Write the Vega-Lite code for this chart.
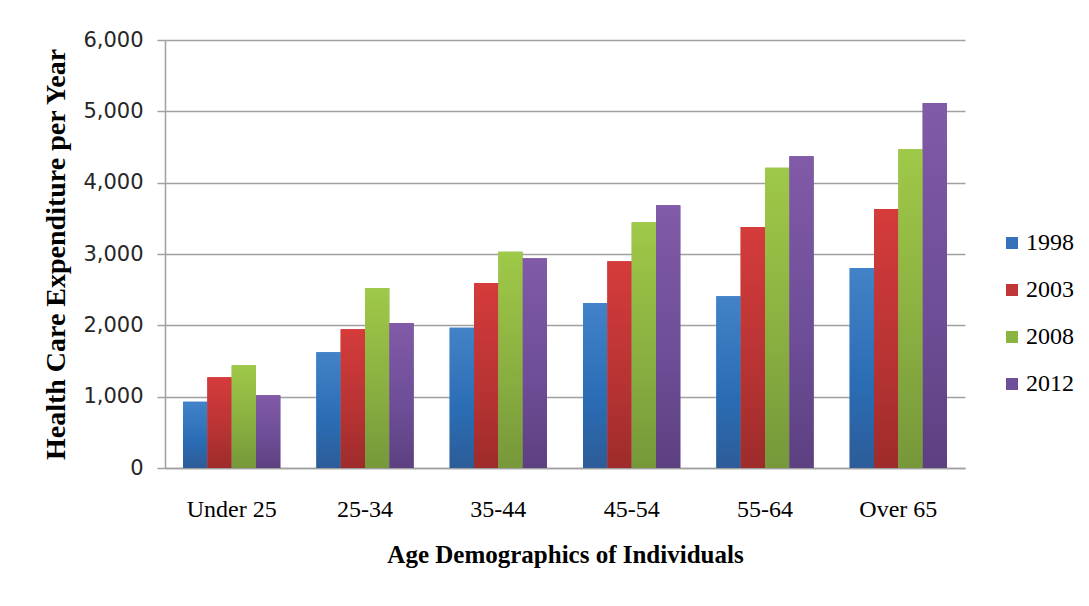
{
  "$schema": "https://vega.github.io/schema/vega-lite/v6.json",
  "width": 800,
  "height": 428,
  "autosize": {"type": "none"},
  "padding": {"left": 165, "top": 40, "right": 124, "bottom": 138},
  "background": "white",
  "data": {"values": [
    {"age": "Under 25", "year": "1998", "value": 930},
    {"age": "Under 25", "year": "2003", "value": 1271},
    {"age": "Under 25", "year": "2008", "value": 1439},
    {"age": "Under 25", "year": "2012", "value": 1019},
    {"age": "25-34", "year": "1998", "value": 1621},
    {"age": "25-34", "year": "2003", "value": 1944},
    {"age": "25-34", "year": "2008", "value": 2523},
    {"age": "25-34", "year": "2012", "value": 2033},
    {"age": "35-44", "year": "1998", "value": 1967},
    {"age": "35-44", "year": "2003", "value": 2593},
    {"age": "35-44", "year": "2008", "value": 3033},
    {"age": "35-44", "year": "2012", "value": 2939},
    {"age": "45-54", "year": "1998", "value": 2313},
    {"age": "45-54", "year": "2003", "value": 2897},
    {"age": "45-54", "year": "2008", "value": 3444},
    {"age": "45-54", "year": "2012", "value": 3682},
    {"age": "55-64", "year": "1998", "value": 2407},
    {"age": "55-64", "year": "2003", "value": 3379},
    {"age": "55-64", "year": "2008", "value": 4210},
    {"age": "55-64", "year": "2012", "value": 4369},
    {"age": "Over 65", "year": "1998", "value": 2804},
    {"age": "Over 65", "year": "2003", "value": 3631},
    {"age": "Over 65", "year": "2008", "value": 4467},
    {"age": "Over 65", "year": "2012", "value": 5117}
  ]},
  "encoding": {
    "x": {
      "field": "age", "type": "nominal", "sort": null,
      "scale": {"paddingInner": 0.27, "paddingOuter": 0.135},
      "axis": {
        "title": "Age Demographics of Individuals",
        "labelAngle": 0, "ticks": false, "labelPadding": 29,
        "labelFont": "Liberation Serif", "labelFontSize": 24,
        "titlePadding": 21, "titleFontSize": 25,
        "domainColor": "#a0a0a0", "domainWidth": 1.5
      }
    },
    "xOffset": {"field": "year", "type": "nominal", "scale": {"domain": ["1998", "2003", "2008", "2012"], "paddingInner": 0, "paddingOuter": 0}},
    "y": {
      "field": "value", "type": "quantitative",
      "scale": {"domain": [0, 6000], "nice": false},
      "axis": {
        "title": "Health Care Expenditure per Year",
        "values": [0, 1000, 2000, 3000, 4000, 5000, 6000],
        "format": ",d", "tickSize": 8, "tickColor": "#a0a0a0", "tickWidth": 1.5,
        "labelPadding": 14, "labelFont": "DejaVu Sans", "labelFontSize": 21, "labelColor": "#262626",
        "titlePadding": 12, "titleFontSize": 28,
        "domainColor": "#a0a0a0", "domainWidth": 1.5,
        "grid": true, "gridColor": "#a0a0a0", "gridWidth": 1.5
      }
    }
  },
  "layer": [
    {
      "mark": {"type": "bar"},
      "encoding": {
        "color": {
          "field": "year", "type": "nominal",
          "scale": {"domain": ["1998", "2003", "2008", "2012"], "range": ["#3572bb", "#c03636", "#8ab442", "#6f4f99"]},
          "legend": {
            "title": null, "orient": "none", "legendX": 835, "legendY": 191,
            "symbolType": "square", "symbolSize": 144, "symbolStrokeWidth": 0,
            "rowPadding": 23, "labelFontSize": 24, "labelFont": "Liberation Serif",
            "labelColor": "#000000", "labelOffset": 2
          }
        }
      }
    },
    {
      "transform": [{"filter": "datum.year == '1998'"}],
      "mark": {"type": "bar", "fill": {"gradient": "linear", "x1": 0, "y1": 0, "x2": 0, "y2": 1, "stops": [{"offset": 0, "color": "#4282c8"}, {"offset": 0.6, "color": "#2a6cb4"}, {"offset": 1, "color": "#2d5c98"}]}}
    },
    {
      "transform": [{"filter": "datum.year == '2003'"}],
      "mark": {"type": "bar", "fill": {"gradient": "linear", "x1": 0, "y1": 0, "x2": 0, "y2": 1, "stops": [{"offset": 0, "color": "#d53b3b"}, {"offset": 0.6, "color": "#b73333"}, {"offset": 1, "color": "#9e2b2b"}]}}
    },
    {
      "transform": [{"filter": "datum.year == '2008'"}],
      "mark": {"type": "bar", "fill": {"gradient": "linear", "x1": 0, "y1": 0, "x2": 0, "y2": 1, "stops": [{"offset": 0, "color": "#9fc948"}, {"offset": 0.6, "color": "#88ad40"}, {"offset": 1, "color": "#76983a"}]}}
    },
    {
      "transform": [{"filter": "datum.year == '2012'"}],
      "mark": {"type": "bar", "fill": {"gradient": "linear", "x1": 0, "y1": 0, "x2": 0, "y2": 1, "stops": [{"offset": 0, "color": "#815aa8"}, {"offset": 0.6, "color": "#6c4d96"}, {"offset": 1, "color": "#5d4080"}]}}
    }
  ],
  "config": {
    "view": {"stroke": null},
    "axis": {
      "labelFont": "Liberation Serif", "labelColor": "#000000",
      "titleFont": "Liberation Serif", "titleFontWeight": "bold", "titleColor": "#000000"
    }
  }
}
